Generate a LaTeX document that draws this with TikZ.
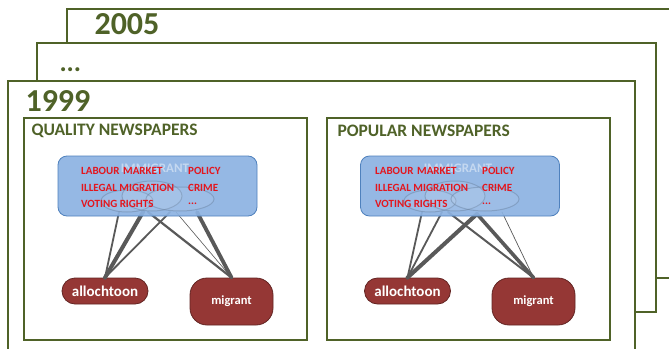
\documentclass[tikz,border=0pt]{standalone}
\usepackage{fontspec}
\setmainfont{Carlito}
\usetikzlibrary{positioning}

\definecolor{framegreen}{HTML}{4F6228}
\definecolor{topicfill}{HTML}{8DB3E2}
\definecolor{topicline}{HTML}{4F81BD}
\definecolor{termred}{HTML}{E3161E}
\definecolor{wordred}{HTML}{953735}
\definecolor{wordline}{HTML}{632523}
\definecolor{linkgray}{HTML}{595959}

\tikzset{
  yearframe/.style={draw=framegreen,line width=1.2pt,fill=white},
  yearlabel/.style={anchor=west,text=framegreen,font=\fontsize{32}{32}\selectfont\bfseries},
  paperlabel/.style={anchor=west,text=framegreen,font=\fontsize{17.5}{17.5}\selectfont\bfseries},
  topicbox/.style={draw=topicline,fill=topicfill,rounded corners=9pt,line width=0.8pt,
    minimum width=199pt,minimum height=60pt,inner sep=0pt},
  term/.style={anchor=west,text=termred,inner sep=0pt,font=\fontsize{11}{11}\selectfont\bfseries},
  wordnode/.style={draw=wordline,fill=wordred,text=white,line width=0.8pt,inner sep=0pt},
  blob/.style={draw=topicline!50!gray,line width=1pt,draw opacity=0.45,fill=white,fill opacity=0.08},
  link/.style={draw=linkgray,line cap=round}
}

\begin{document}
\begin{tikzpicture}[x=1pt,y=-1pt]
  \useasboundingbox (0,0) rectangle (669,348);
  \clip (0,0) rectangle (669,348);

  % stacked year frames
  \draw[yearframe] (67,9) rectangle (690,278);
  \node[yearlabel] (y2005) at (91,24) {2005};
  \draw[yearframe] (37,43) rectangle (656,312);
  \node[yearlabel,font=\fontsize{27}{27}\selectfont\bfseries] (ydots) at (56,70) {...};
  \draw[yearframe] (8,81) rectangle (635,370);
  \node[yearlabel] (y1999) at (22,101) {1999};

  % quality newspapers
  \draw[framegreen,line width=1.2pt] (24,118) rectangle (307,340);
  \node[paperlabel] (qtitle) at (28,131) {QUALITY NEWSPAPERS};

  \coordinate (q1) at (119,212);
  \coordinate (q2) at (143,212);
  \coordinate (q3) at (148,212);
  \coordinate (q4) at (170,212);
  \coordinate (q5) at (176,212);
  \coordinate (q6) at (197,212);
  \node[wordnode,rounded corners=13pt,minimum width=86pt,minimum height=26pt,
    font=\fontsize{15}{15}\selectfont\bfseries] (qallo) at (105,291) {allochtoon};
  \node[wordnode,rounded corners=17pt,minimum width=83pt,minimum height=47pt,
    font=\fontsize{12.5}{12.5}\selectfont\bfseries] (qmigr) at (231.5,301.5) {migrant};
  \draw[link,line width=1.8pt] (q1) -- (qallo.north);
  \draw[link,line width=4pt] (q2) -- (qallo.north);
  \draw[link,line width=2.2pt] (q3) -- (qmigr.north);
  \draw[link,line width=1.8pt] (q4) -- (qallo.north);
  \draw[link,line width=0.6pt] (q5) -- (qmigr.north);
  \draw[link,line width=3.8pt] (q6) -- (qmigr.north);

  \node[topicbox,fill opacity=0.92] (qtopics) at (157.5,186) {};
  \draw[blob] (127,201) ellipse (26 and 11);
  \draw[blob] (152,196) ellipse (30 and 15);
  \draw[blob] (180,199) ellipse (34 and 12);
  \node[text=white,text opacity=0.45,font=\fontsize{13}{13}\selectfont\bfseries] (qimm) at (155,168) {IMMIGRANT};
  \node[term] (qt1) at (81,171) {LABOUR\,\,MARKET};
  \node[term] (qt2) at (81,188) {ILLEGAL MIGRATION};
  \node[term] (qt3) at (81,204) {VOTING RIGHTS};
  \node[term] (qt4) at (188,171) {POLICY};
  \node[term] (qt5) at (188,188) {CRIME};
  \node[term] (qt6) at (188,204) {...};

  % popular newspapers
  \begin{scope}[xshift=303pt]
    \draw[framegreen,line width=1.2pt] (24,118) rectangle (307,340);
    \node[paperlabel] (ptitle) at (31,131) {POPULAR NEWSPAPERS};

    \coordinate (p1) at (119,212);
    \coordinate (p2) at (139,212);
    \coordinate (p3) at (145,212);
    \coordinate (p4) at (174,214);
    \coordinate (p5) at (199,212);
    \node[wordnode,rounded corners=13pt,minimum width=86pt,minimum height=26pt,
      font=\fontsize{15}{15}\selectfont\bfseries] (pallo) at (104.5,291) {allochtoon};
    \node[wordnode,rounded corners=17pt,minimum width=83pt,minimum height=47pt,
      font=\fontsize{12.5}{12.5}\selectfont\bfseries] (pmigr) at (230.5,301.5) {migrant};
    \draw[link,line width=1.8pt] (p1) -- (pallo.north);
    \draw[link,line width=1.8pt] (p2) -- (pallo.north);
    \draw[link,line width=2pt] (p3) -- (pmigr.north);
    \draw[link,line width=4pt] (p4) -- (pallo.north);
    \draw[link,line width=3.6pt] (p4) -- (pmigr.north);
    \draw[link,line width=0.7pt] (p5) -- (pmigr.north);

    \node[topicbox,fill opacity=0.92] (ptopics) at (157,186) {};
    \draw[blob] (127,201) ellipse (26 and 11);
    \draw[blob] (152,196) ellipse (30 and 15);
    \draw[blob] (182,199) ellipse (34 and 12);
    \node[text=white,text opacity=0.45,font=\fontsize{13}{13}\selectfont\bfseries] (pimm) at (155,168) {IMMIGRANT};
    \node[term] (pt1) at (72,171) {LABOUR\,\,MARKET};
    \node[term] (pt2) at (72,188) {ILLEGAL MIGRATION};
    \node[term] (pt3) at (72,204) {VOTING RIGHTS};
    \node[term] (pt4) at (179,171) {POLICY};
    \node[term] (pt5) at (179,188) {CRIME};
    \node[term] (pt6) at (179,204) {...};
  \end{scope}
\end{tikzpicture}
\end{document}
